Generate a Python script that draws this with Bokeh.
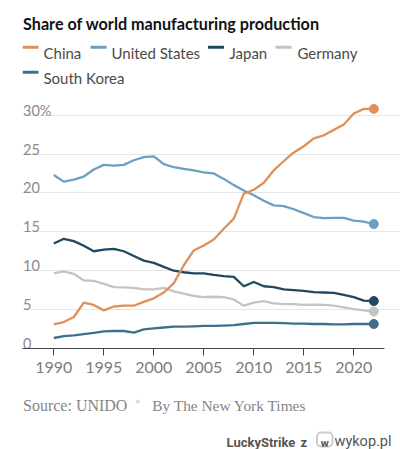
from bokeh.plotting import figure
from bokeh.layouts import column
from bokeh.models import Range1d, FixedTicker, Label, BoxAnnotation
from bokeh.core.properties import value
from bokeh.embed import file_html
from bokeh.resources import INLINE

# ---------------- data ----------------
years = list(range(1990, 2023))
china = [3.1, 3.4, 4.05, 5.9, 5.6, 4.9, 5.4, 5.5, 5.5, 6.0, 6.45, 7.2, 8.4, 10.7, 12.6, 13.25,
         14.0, 15.4, 16.7, 19.9, 20.4, 21.3, 22.9, 24.1, 25.2, 26.0, 27.0, 27.4, 28.1, 28.8, 30.2, 30.8, 30.8]
united_states = [22.3, 21.45, 21.7, 22.1, 23.0, 23.6, 23.5, 23.6, 24.2, 24.6, 24.7, 23.7, 23.3, 23.1, 22.9, 22.65,
                 22.5, 21.8, 21.0, 20.3, 19.7, 19.0, 18.4, 18.3, 17.9, 17.4, 16.9, 16.75, 16.8, 16.8, 16.45, 16.3, 16.0]
japan = [13.5, 14.1, 13.8, 13.2, 12.5, 12.7, 12.8, 12.5, 11.9, 11.3, 11.0, 10.5, 10.0, 9.8, 9.65, 9.65,
         9.45, 9.3, 9.2, 8.0, 8.55, 8.0, 7.9, 7.6, 7.5, 7.4, 7.25, 7.2, 7.15, 6.9, 6.6, 6.15, 6.1]
germany = [9.65, 9.9, 9.6, 8.75, 8.7, 8.3, 7.9, 7.85, 7.8, 7.6, 7.6, 7.8, 7.35, 7.05, 6.75, 6.6,
           6.65, 6.6, 6.3, 5.5, 5.9, 6.1, 5.8, 5.7, 5.7, 5.6, 5.65, 5.6, 5.5, 5.3, 5.05, 4.9, 4.75]
south_korea = [1.35, 1.6, 1.7, 1.85, 2.0, 2.2, 2.25, 2.25, 2.05, 2.45, 2.6, 2.7, 2.8, 2.8, 2.85, 2.9,
               2.9, 2.95, 3.0, 3.15, 3.3, 3.3, 3.3, 3.25, 3.2, 3.2, 3.15, 3.15, 3.1, 3.1, 3.15, 3.15, 3.15]

series_names = ["China", "United States", "Japan", "Germany", "South Korea"]
x_ticks = [1990, 1995, 2000, 2005, 2010, 2015, 2020]
y_ticks = [0, 5, 10, 15, 20, 25, 30]
y_tick_labels = ["0", "5", "10", "15", "20", "25", "30%"]

title_text = "Share of world manufacturing production"
source_text = "Source: UNIDO"
credit_text = "By The New York Times"

# ---------------- styling ----------------
colors = {
    "China": "#e0915a",
    "United States": "#6ba0c0",
    "Japan": "#1f4862",
    "Germany": "#c4c4c4",
    "South Korea": "#3f6f8d",
}
data = {
    "China": china,
    "United States": united_states,
    "Japan": japan,
    "Germany": germany,
    "South Korea": south_korea,
}

W = 400
H1 = 385                     # chart part
H2 = 449 - H1                # footer part
FL, FB = 22, 348             # frame left / bottom (page px)
GRID_RIGHT = 384             # gridlines and axis end here
PX_PER_YEAR = 10.0
X0 = 1990 - (53.3 - FL) / PX_PER_YEAR
X_GRID_END = X0 + (GRID_RIGHT - FL) / PX_PER_YEAR
X1 = X0 + (W - FL) / PX_PER_YEAR
Y0, Y1 = 0, FB / 7.78

p = figure(width=W, height=H1, output_backend="svg", toolbar_location=None,
           x_range=Range1d(X0, X1), y_range=Range1d(Y0, Y1),
           y_axis_location=None)
p.min_border = 0
p.min_border_left = FL
p.min_border_right = 0
p.min_border_top = 0
p.min_border_bottom = H1 - FB
p.outline_line_color = None
p.background_fill_color = "white"
p.border_fill_color = "white"

p.xgrid.visible = False
p.ygrid.ticker = FixedTicker(ticks=y_ticks)
p.ygrid.grid_line_color = "#e6e6e6"
p.ygrid.grid_line_width = 1
p.ygrid.bounds = (X0, X_GRID_END)

ax = p.xaxis[0]
ax.bounds = (X0, X_GRID_END)
ax.ticker = FixedTicker(ticks=x_ticks)
ax.axis_line_color = "#444444"
ax.axis_line_width = 1.2
ax.major_tick_line_color = "#444444"
ax.major_tick_in = 0
ax.major_tick_out = 7
ax.minor_tick_line_color = None
ax.major_label_standoff = 6
ax.major_label_text_font = "Lato"
ax.major_label_text_font_size = "16px"
ax.major_label_text_color = "#7c7c7c"

# y tick labels sitting on top of the gridlines
p.text(x=[X0] * len(y_ticks), y=y_ticks, text=y_tick_labels,
       text_align="left", text_baseline="alphabetic", x_offset=0.5, y_offset=-5,
       text_font=value("Lato"), text_font_size="14.5px", text_color="#8a8a8a")

for name in ["Germany", "South Korea", "Japan", "United States", "China"]:
    vals = data[name]
    p.line(years, vals, line_color=colors[name], line_width=2.3, line_join="round")
    p.scatter([years[-1]], [vals[-1]], size=9, color=colors[name])


def add_label(fig, text, sxv, syv, size, color, font="Lato", style="normal",
              baseline="alphabetic", align="left"):
    fig.add_layout(Label(x=sxv, y=syv, x_units="screen", y_units="screen", text=text,
                         text_font=font, text_font_size=size, text_color=color,
                         text_font_style=style, text_baseline=baseline, text_align=align))


def add_box(fig, l, r, t, b, **kw):
    fig.add_layout(BoxAnnotation(left=l, right=r, top=t, bottom=b,
                                 left_units="screen", right_units="screen",
                                 top_units="screen", bottom_units="screen", **kw))


# chart part: frame-relative screen coords
def cx(px):
    return px - FL


def cy(py):
    return FB - py


add_label(p, title_text, cx(22.5), cy(22.7), "16.2px", "#121212", style="bold")

legend_pos = [(22, 43, 46.7, 52.3), (90, 111, 46.7, 52.3), (207.5, 229, 46.7, 52.3),
              (275, 297, 46.7, 52.3), (22, 43, 71.7, 77.3)]
for name, (lx, tx, ly, tb) in zip(series_names, legend_pos):
    add_box(p, cx(lx), cx(lx + 16), cy(ly - 1.5), cy(ly + 1.5),
            fill_color=colors[name], fill_alpha=1, line_color=None)
    add_label(p, name, cx(tx), cy(tb), "15px", "#4a4a4a")

# footer part (its frame is aligned with the chart's frame: left edge at FL)
f = figure(width=W, height=H2, output_backend="svg", toolbar_location=None,
           x_range=Range1d(0, 1), y_range=Range1d(0, 1),
           x_axis_location=None, y_axis_location=None)
f.min_border = 0
f.min_border_left = FL
f.min_border_right = 0
f.outline_line_color = None
f.xgrid.visible = False
f.ygrid.visible = False
f.background_fill_color = "white"
f.border_fill_color = "white"


def fx(px):
    return px - FL


def fy(py):
    return 449 - py


add_label(f, source_text, fx(22.5), fy(405), "16px", "#858585", font="Liberation Serif")
add_label(f, "\u25cf", fx(137.2), fy(400.7), "5px", "#dcdcdc", font="DejaVu Sans",
          baseline="middle", align="center")
add_label(f, credit_text, fx(151.7), fy(405), "15.4px", "#858585", font="Liberation Serif")

add_label(f, "LuckyStrike", fx(226), fy(441.5), "13px", "#555555", font="Roboto", style="bold")
add_label(f, "z", fx(300), fy(441.5), "13px", "#555555", font="Roboto", style="bold")
add_box(f, fx(316.5), fx(332), fy(432), fy(446),
        fill_color=None, line_color="#555555", line_width=2, border_radius=4)
add_label(f, "w", fx(324.2), fy(442.5), "11px", "#555555", font="Roboto", style="bold", align="center")
add_label(f, "wykop.pl", fx(334), fy(440.5), "14.5px", "#555555", font="Roboto")

layout = column(p, f, spacing=0)
open("out.html", "w").write(file_html(layout, INLINE))
